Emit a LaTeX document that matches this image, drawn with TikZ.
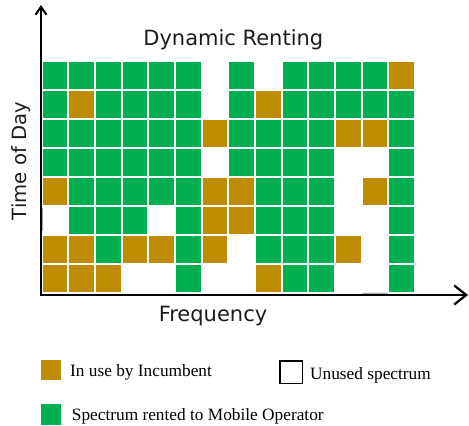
\documentclass[tikz,border=0pt]{standalone}
\usepackage{fontspec}
\setmainfont{Liberation Serif}
\newfontfamily\labelfont{DejaVu Sans}
\usetikzlibrary{arrows.meta}

\definecolor{cG}{HTML}{00B050}
\definecolor{cB}{HTML}{BF8B00}
\definecolor{cW}{HTML}{FFFFFF}
\definecolor{labelink}{HTML}{1C1C1C}

\tikzset{
  axisline/.style={line width=2pt, black},
  slot/.style={inner sep=0pt, outer sep=0pt, minimum width=24.7pt, minimum height=27pt},
  axislabel/.style={font=\labelfont\fontsize{21}{24}\selectfont, text=labelink, inner sep=0pt},
  legendtext/.style={font=\fontsize{17.3}{20}\selectfont, anchor=base west, inner sep=0pt},
  legendbox/.style={inner sep=0pt, minimum width=20pt, minimum height=20pt},
  seam/.style={line width=1.2pt, gray!70}
}

\begin{document}
\begin{tikzpicture}[x=1pt, y=-1pt]
  \useasboundingbox (0,0) rectangle (469,426);

  % spectrum occupancy: one row per time slot, one letter per channel
  % G = rented to mobile operator, B = incumbent, W = unused
  \foreach \row [count=\j from 0] in {
      {G,G,G,G,G,G,W,G,W,G,G,G,G,B},
      {G,B,G,G,G,G,W,G,B,G,G,G,G,G},
      {G,G,G,G,G,G,B,G,G,G,G,B,B,G},
      {G,G,G,G,G,G,W,G,G,G,G,W,W,G},
      {B,G,G,G,G,G,B,B,G,G,G,W,B,G},
      {W,G,G,G,W,G,B,B,G,G,G,W,W,G},
      {B,B,G,B,B,G,B,W,G,G,G,B,W,G},
      {B,B,B,W,W,G,W,W,B,G,G,W,W,G}} {
    \foreach \c [count=\i from 0] in \row {
      \node[slot, fill=c\c, anchor=north west]
        (s-\j-\i) at ({42.7+26.67*\i}, {61.7+29.05*\j}) {};
    }
  }

  % faint edges left on some unused slots
  \draw[seam] (s-5-0.north west) ++(0,1) -- ++(0,23);
  \draw[seam] (s-7-12.south west) ++(0,1.5) -- (s-7-12.south east |- 0,293.5);

  % axes
  \coordinate (origin) at (41,296);
  \coordinate (ytip) at (41,5);
  \coordinate (xtip) at (468,295);
  \draw[axisline, -{Straight Barb[length=8pt, width=11pt, line width=2pt]}]
    (origin) -- (ytip);
  \draw[axisline, -{Straight Barb[length=12pt, width=19pt, line width=2.2pt]}]
    (40,295) -- (xtip);

  % titles
  \node[axislabel, anchor=base] (title) at (233.3,45) {Dynamic Renting};
  \node[axislabel, anchor=base] (xlabel) at (213,321.5) {Frequency};
  \node[axislabel, anchor=base, rotate=90, font=\labelfont\fontsize{19.6}{22}\selectfont]
    (ylabel) at (26.5,161) {Time of Day};

  % legend
  \node[legendbox, fill=cB, anchor=north west] (key-inc) at (40.7,359.3) {};
  \node[legendtext] (txt-inc) at (70,376.7) {In use by Incumbent};
  \node[legendbox, draw=black, line width=1.6pt, minimum width=22.5pt,
        minimum height=22.5pt, anchor=north west] (key-unused) at (279,360) {};
  \node[legendtext] (txt-unused) at (310,379) {Unused spectrum};
  \node[legendbox, fill=cG, minimum height=21pt, anchor=north west] (key-rent) at (40.7,404) {};
  \node[legendtext] (txt-rent) at (71.7,420) {Spectrum rented to Mobile Operator};
\end{tikzpicture}
\end{document}
